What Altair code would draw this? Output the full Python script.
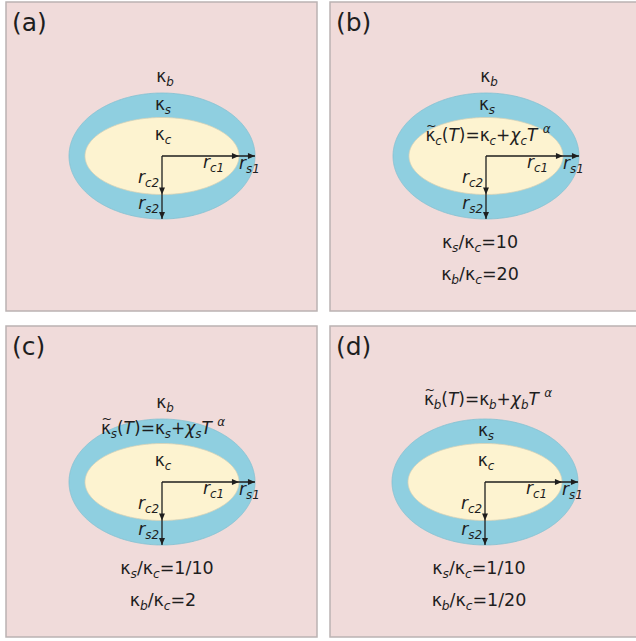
import numpy as np
import pandas as pd
import altair as alt

# ---- content -------------------------------------------------------------
panel_letters = ["(a)", "(b)", "(c)", "(d)"]
# region whose conductivity depends on temperature (None = all constant)
tdep_region = [None, "c", "s", "b"]
ratio_s_c = [None, "10", "1/10", "1/10"]
ratio_b_c = [None, "20", "2", "1/20"]

# ---- layout (pixel space) ------------------------------------------------
W, H = 636, 641
panel_x0 = [6, 330, 6, 330]
panel_x1 = [317, 640, 317, 640]
panel_y0 = [2, 2, 326, 326]
panel_y1 = [311, 311, 637, 637]
ell_cx = [162, 486, 162, 485]
ell_cy = [156, 156, 482, 482]
A_OUT, B_OUT = 93, 63
A_IN, B_IN = 77, 38.5
ratio_dx1 = [0, -6, 5, -6]
ratio_dx2 = [0, -6, 1, -6]

FONT = "DejaVu Sans"
FS = 17
SUB = 0.7
INK = "#1e1e1e"

# approximate advance widths (em) of the font
ADV = {"κ": 0.58, "χ": 0.59, "α": 0.66, "(": 0.39, ")": 0.39, "=": 0.838,
       "+": 0.838, "/": 0.337, "T": 0.611, "b": 0.635, "c": 0.55, "s": 0.521,
       "r": 0.411, " ": 0.318, "~": 0.838}
for d in "0123456789":
    ADV[d] = 0.636


def width(txt, size):
    return sum(ADV.get(ch, 0.6) for ch in txt) * size


def place(segs, x, y, align="center", size=FS):
    """segs: list of (text, kind, italic[, tilde]); kind n=normal b=sub p=sup."""
    pieces = []
    total = 0
    for s in segs:
        txt, kind, ital = s[0], s[1], s[2]
        sz = size * (SUB if kind in "bp" else 1.0)
        w = width(txt, sz)
        pieces.append((txt, kind, ital, sz, w, len(s) > 3 and s[3]))
        total += w
    if align == "center":
        cur = x - total / 2
    elif align == "right":
        cur = x - total
    else:
        cur = x
    rows = []
    for txt, kind, ital, sz, w, tilde in pieces:
        yy = y + (0.22 * size if kind == "b" else (-0.5 * size if kind == "p" else 0))
        rows.append(dict(x=cur, y=yy, t=txt, size=sz, italic=ital))
        if tilde:
            ts = size * 0.75
            rows.append(dict(x=cur + w / 2 - width("~", ts) / 2 + 1, y=y - 0.62 * size,
                             t="~", size=ts, italic=False))
        cur += w
    return rows


def kappa(sub):
    return [("κ", "n", False), (sub, "b", True)]


def formula(sub):
    return [("κ", "n", False, True), (sub, "b", True), ("(", "n", False),
            ("T", "n", True), (")=", "n", False), ("κ", "n", False), (sub, "b", True),
            ("+", "n", False), ("χ", "n", True), (sub, "b", True), ("T", "n", True),
            (" ", "n", False), ("α", "p", True)]


def ratio(num, val):
    return [("κ", "n", False), (num, "b", True), ("/", "n", False),
            ("κ", "n", False), ("c", "b", True), ("=" + val, "n", False)]


def rlab(sub):
    return [("r", "n", True), (sub, "b", True)]


rows = []
for i in range(4):
    cx, cy = ell_cx[i], ell_cy[i]
    rows.append(dict(x=panel_x0[i] + 6, y=panel_y0[i] + 29, t=panel_letters[i],
                     size=25, italic=False))
    reg = tdep_region[i]
    # region labels
    if reg == "b":
        rows += place(formula("b"), cx + 3, cy - 77)
    else:
        rows += place(kappa("b"), cx + 3, cy - 74)
    if reg == "s":
        rows += place(formula("s"), cx + 1, cy - 48)
    else:
        rows += place(kappa("s"), cx + 1, cy - 46)
    if reg == "c":
        rows += place(formula("c"), cx + 2, cy - 15)
    else:
        rows += place(kappa("c"), cx + 1, cy - 16)
    # radii labels
    rows += place(rlab("c1"), cx + 41, cy + 12, "left")
    rows += place(rlab("s1"), cx + 77, cy + 13, "left")
    rows += place(rlab("c2"), cx - 3, cy + 27, "right")
    rows += place(rlab("s2"), cx - 3, cy + 53, "right")
    # conductivity ratios
    if ratio_s_c[i]:
        rows += place(ratio("s", ratio_s_c[i]), cx + ratio_dx1[i], cy + 92, size=17.5)
        rows += place(ratio("b", ratio_b_c[i]), cx + ratio_dx2[i], cy + 124, size=17.5)

text_df = pd.DataFrame(rows)

panels = pd.DataFrame(dict(x=panel_x0, x2=panel_x1, y=panel_y0, y2=panel_y1))

ell_rows = []
t = np.linspace(0, np.pi, 241)
for i in range(4):
    for name, a, b in (("out", A_OUT, B_OUT), ("in", A_IN, B_IN)):
        xs = ell_cx[i] - a * np.cos(t)
        hs = b * np.sin(t)
        for xv, hv in zip(xs, hs):
            ell_rows.append(dict(id=f"{name}{i}", layer=name, x=xv,
                                 top=ell_cy[i] - hv, bot=ell_cy[i] + hv))
ell = pd.DataFrame(ell_rows)

rules = pd.DataFrame(
    [dict(x=ell_cx[i], x2=ell_cx[i] + A_OUT, y=ell_cy[i], y2=ell_cy[i]) for i in range(4)]
    + [dict(x=ell_cx[i], x2=ell_cx[i], y=ell_cy[i], y2=ell_cy[i] + B_OUT) for i in range(4)]
)
heads_r = pd.DataFrame([dict(x=ell_cx[i] + a, y=ell_cy[i]) for i in range(4) for a in (A_IN, A_OUT)])
heads_d = pd.DataFrame([dict(x=ell_cx[i], y=ell_cy[i] + b) for i in range(4) for b in (B_IN, B_OUT)])

xs_ = alt.Scale(domain=[0, W], nice=False, zero=False)
ys_ = alt.Scale(domain=[0, H], nice=False, zero=False, reverse=True)
X = lambda f: alt.X(f, scale=xs_, axis=None)
Y = lambda f: alt.Y(f, scale=ys_, axis=None)

panel_layer = alt.Chart(panels).mark_rect(
    fill="#f0dbda", stroke="#bab3b3", strokeWidth=1.5
).encode(x=X("x:Q"), x2="x2:Q", y=Y("y:Q"), y2="y2:Q")

outer_layer = alt.Chart(ell[ell.layer == "out"]).mark_area(
    orient="vertical", fill="#8fcfe0", stroke="#84c0d0", strokeWidth=0.8
).encode(x=X("x:Q"), y=Y("top:Q"), y2="bot:Q", detail="id:N")

inner_layer = alt.Chart(ell[ell.layer == "in"]).mark_area(
    orient="vertical", fill="#fdf3d0", stroke="#d8d2b6", strokeWidth=0.8
).encode(x=X("x:Q"), y=Y("top:Q"), y2="bot:Q", detail="id:N")

rule_layer = alt.Chart(rules).mark_rule(color=INK, strokeWidth=1.3).encode(
    x=X("x:Q"), x2="x2:Q", y=Y("y:Q"), y2="y2:Q")

head_r_layer = alt.Chart(heads_r).mark_point(
    shape="M0,0 L-1,-0.42 L-1,0.42 Z", filled=True, color=INK, opacity=1, size=200
).encode(x=X("x:Q"), y=Y("y:Q"))

head_d_layer = alt.Chart(heads_d).mark_point(
    shape="M0,0 L-0.42,-1 L0.42,-1 Z", filled=True, color=INK, opacity=1, size=200
).encode(x=X("x:Q"), y=Y("y:Q"))

upright = alt.Chart(text_df[~text_df.italic]).mark_text(
    align="left", baseline="alphabetic", font=FONT, color=INK
).encode(x=X("x:Q"), y=Y("y:Q"), text="t:N", size=alt.Size("size:Q", scale=None))

italic = alt.Chart(text_df[text_df.italic]).mark_text(
    align="left", baseline="alphabetic", font=FONT, fontStyle="italic", color=INK
).encode(x=X("x:Q"), y=Y("y:Q"), text="t:N", size=alt.Size("size:Q", scale=None))

chart = alt.layer(
    panel_layer, outer_layer, inner_layer, rule_layer, head_r_layer, head_d_layer,
    upright, italic
).properties(
    width=W, height=H, autosize=alt.AutoSizeParams(type="none"), padding=0,
    background="white"
).configure_view(stroke=None)

chart.save("out.html", embed_options={"renderer": "svg", "actions": False})
